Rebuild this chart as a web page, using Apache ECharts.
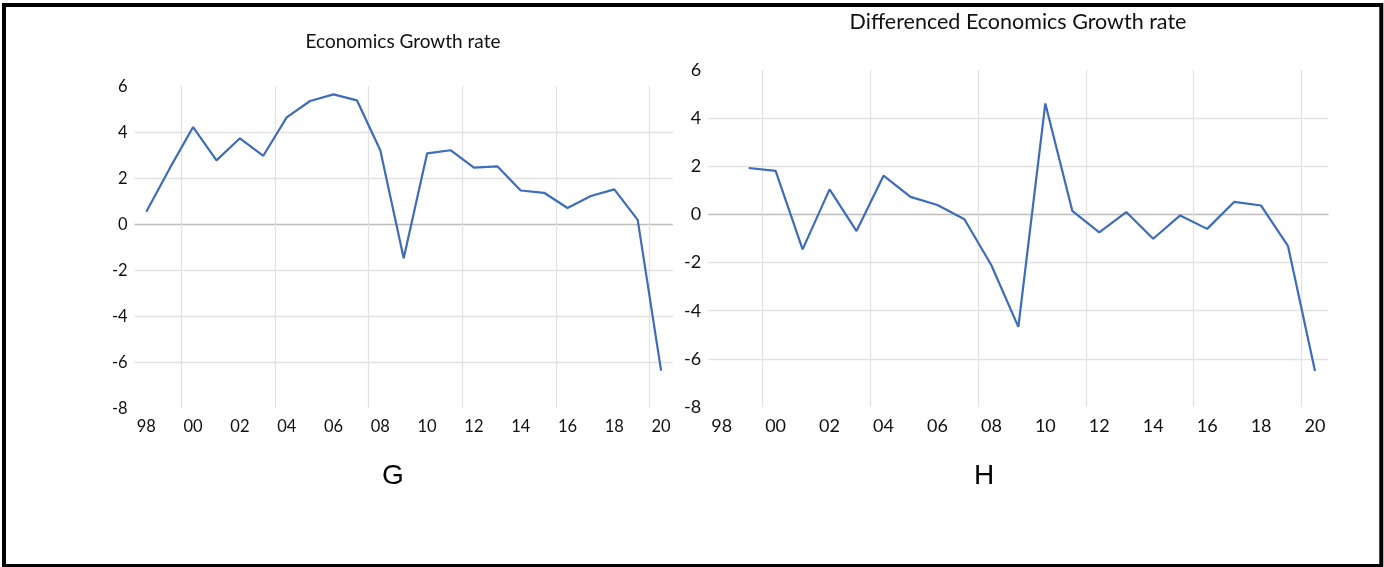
<!DOCTYPE html>
<html>
<head>
<meta charset="utf-8">
<title>Economics Growth rate</title>
<style>
  html, body { margin: 0; padding: 0; background: #ffffff; }
  #chart { width: 1384px; height: 567px; }
</style>
<script src="https://cdn.jsdelivr.net/npm/echarts@6/dist/echarts.min.js"></script>
</head>
<body>
<div id="chart"></div>
<script>
// Years on the category axis (two-digit labels, 1998-2020)
const years = ['98','99','00','01','02','03','04','05','06','07','08','09','10',
               '11','12','13','14','15','16','17','18','19','20'];

// Annual economic growth rate, 1998-2020 (%)
const growthRate = [0.55, 2.43, 4.23, 2.78, 3.74, 2.98, 4.65, 5.36, 5.65, 5.39, 3.22,
                    -1.48, 3.08, 3.22, 2.46, 2.52, 1.47, 1.37, 0.71, 1.23, 1.52, 0.19, -6.36];

// First difference of the growth rate, 1999-2020
const diffYears = years.slice(1);
const diffGrowthRate = [1.93, 1.81, -1.45, 1.04, -0.69, 1.61, 0.73, 0.39, -0.20, -2.11,
                        -4.67, 4.61, 0.15, -0.75, 0.10, -1.01, -0.04, -0.60, 0.52, 0.37, -1.32, -6.50];

// Value-axis ticks
const yMin = -8, yMax = 6, yStep = 2;

// Panel captions
const titles = ['Economics Growth rate', 'Differenced Economics Growth rate'];
const panelLetters = ['G', 'H'];

const LINE = '#3d6cb9';
const GRID = '#e2e2e2';
const ZERO = '#bdbdbd';
const TEXT = '#111111';
const FONT = 'Lato, "Open Sans", sans-serif';

// vertical gridlines every fourth category boundary (between 99|00, 03|04, ...)
const xLineColors = [];
for (let i = 0; i <= years.length; i++) xLineColors.push(i % 4 === 2 ? GRID : 'transparent');

// horizontal gridlines: none on the outer ticks, darker on zero
const yLineColors = [];
for (let v = yMin; v <= yMax; v += yStep) {
  yLineColors.push(v === 0 ? ZERO : (v === yMin || v === yMax ? 'transparent' : GRID));
}

function xAxisFor(gridIndex, fontSize) {
  return {
    type: 'category',
    gridIndex: gridIndex,
    data: years,
    boundaryGap: true,
    axisLine: { show: false },
    axisTick: { show: false },
    axisLabel: { interval: 1, color: TEXT, fontFamily: FONT, fontSize: fontSize, margin: 10 },
    splitLine: { show: true, interval: 0, lineStyle: { color: xLineColors, width: 1.2 } }
  };
}

function yAxisFor(gridIndex, fontSize) {
  return {
    type: 'value',
    gridIndex: gridIndex,
    min: yMin, max: yMax, interval: yStep,
    axisLine: { show: false },
    axisTick: { show: false },
    axisLabel: { color: TEXT, fontFamily: FONT, fontSize: fontSize, margin: 7 },
    splitLine: { show: true, lineStyle: { color: yLineColors, width: 1.3 } }
  };
}

const chart = echarts.init(document.getElementById('chart'), null, { renderer: 'canvas' });

chart.setOption({
  animation: false,
  backgroundColor: '#ffffff',
  grid: [
    { left: 134.6, top: 86.3, width: 538.2, height: 322, outerBoundsMode: 'none' },
    { left: 708.2, top: 70, width: 620.3, height: 337, outerBoundsMode: 'none' }
  ],
  xAxis: [xAxisFor(0, 16.5), xAxisFor(1, 18)],
  yAxis: [yAxisFor(0, 16.5), yAxisFor(1, 18)],
  series: [
    {
      name: titles[0],
      type: 'line',
      xAxisIndex: 0, yAxisIndex: 0,
      data: growthRate,
      symbol: 'none',
      lineStyle: { color: LINE, width: 2.2 }
    },
    {
      name: titles[1],
      type: 'line',
      xAxisIndex: 1, yAxisIndex: 1,
      data: diffYears.map((y, i) => [y, diffGrowthRate[i]]),
      symbol: 'none',
      lineStyle: { color: LINE, width: 2.2 }
    }
  ],
  graphic: [
    {
      type: 'text', x: 403, y: 42,
      style: { text: titles[0], fill: TEXT, font: '19px ' + FONT, textAlign: 'center', textVerticalAlign: 'middle' }
    },
    {
      type: 'text', x: 1018, y: 22,
      style: { text: titles[1], fill: TEXT, font: '21.5px ' + FONT, textAlign: 'center', textVerticalAlign: 'middle' }
    },
    {
      type: 'text', x: 393, y: 476,
      style: { text: panelLetters[0], fill: '#000', font: '28px "Liberation Sans", Arial, sans-serif', textAlign: 'center', textVerticalAlign: 'middle' }
    },
    {
      type: 'text', x: 984, y: 476,
      style: { text: panelLetters[1], fill: '#000', font: '28px "Liberation Sans", Arial, sans-serif', textAlign: 'center', textVerticalAlign: 'middle' }
    },
    {
      type: 'rect', silent: true,
      shape: { x: 4, y: 5, width: 1377.3, height: 561 },
      style: { fill: 'none', stroke: '#000', lineWidth: 4 }
    }
  ]
});
</script>
</body>
</html>
